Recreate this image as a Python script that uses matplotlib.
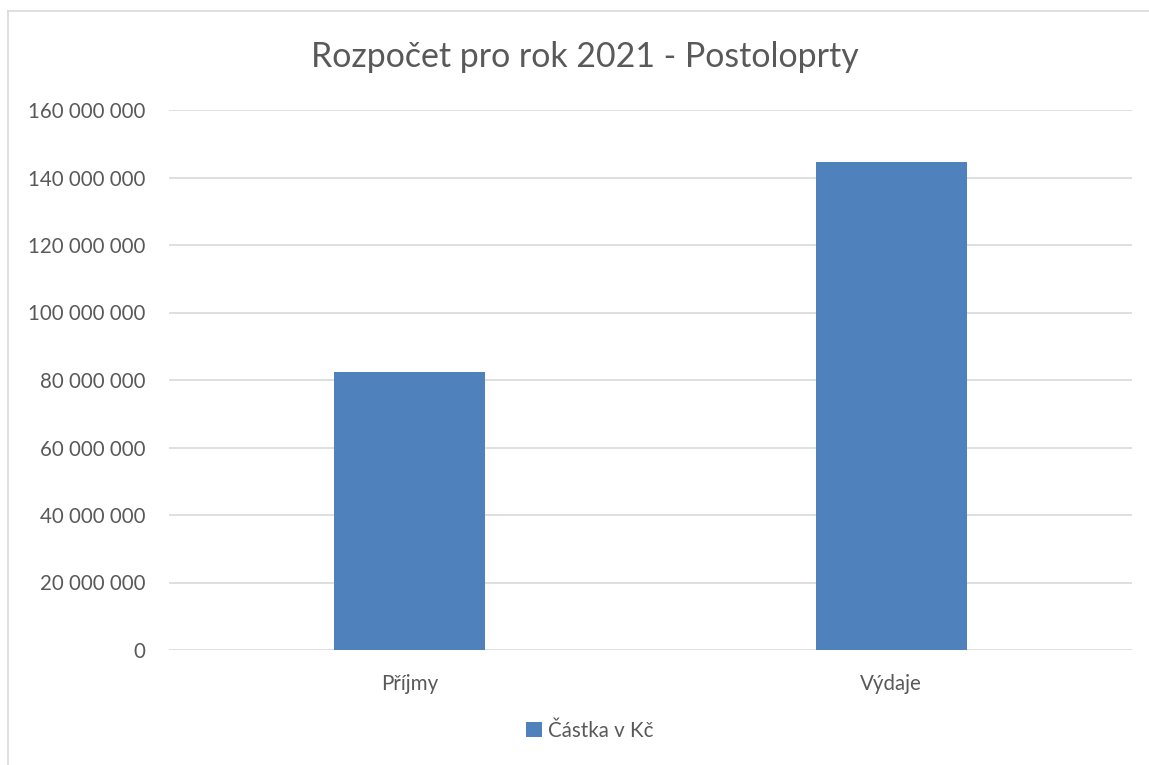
import matplotlib.pyplot as plt
from matplotlib.lines import Line2D
from matplotlib.ticker import FuncFormatter

# Data
categories = ['Příjmy', 'Výdaje']
values = [82300000, 144500000]
series_name = 'Částka v Kč'
title = 'Rozpočet pro rok 2021 - Postoloprty'

plt.rcParams['font.family'] = ['Lato', 'DejaVu Sans']
text_col = '#595959'
bar_col = '#4F81BD'
grid_col = '#D9D9D9'

W, H = 1149, 765
fig = plt.figure(figsize=(W / 100, H / 100), dpi=100)
ax = fig.add_axes([169 / W, 1 - 650 / H, (1132 - 169) / W, (650 - 110) / H])

x = range(len(categories))
ax.bar(x, values, width=0.314, color=bar_col, label=series_name, zorder=3)

ax.set_xlim(-0.5, len(categories) - 0.5)
ax.set_ylim(0, 160000000)
ax.set_yticks(range(0, 160000001, 20000000))
ax.yaxis.set_major_formatter(FuncFormatter(lambda v, p: f'{int(v):,}'.replace(',', ' ')))
ax.set_xticks(list(x))
ax.set_xticklabels(categories)
ax.grid(axis='y', color=grid_col, linewidth=1.2, zorder=0)
for s in ax.spines.values():
    s.set_visible(False)
ax.tick_params(axis='both', length=0, labelsize=14.8, colors=text_col)
ax.tick_params(axis='y', pad=17)
ax.tick_params(axis='x', pad=17)

fig.text(585 / W, 1 - 57 / H, title, ha='center', va='center', fontsize=24.4, color=text_col)

leg = fig.legend(loc='center', bbox_to_anchor=(590 / W, 1 - 731 / H), frameon=False,
                 fontsize=14.8, handlelength=0.75, handleheight=0.75, handletextpad=0.3)
for t in leg.get_texts():
    t.set_color(text_col)

# chart frame (partly cut off at right and bottom)
fig.add_artist(Line2D([8 / W, 8 / W], [0, 1 - 11 / H], color='#D9D9D9', linewidth=1.2))
fig.add_artist(Line2D([8 / W, 1], [1 - 11 / H, 1 - 11 / H], color='#D9D9D9', linewidth=1.2))

fig.savefig('out.png', dpi=100, facecolor='white')
